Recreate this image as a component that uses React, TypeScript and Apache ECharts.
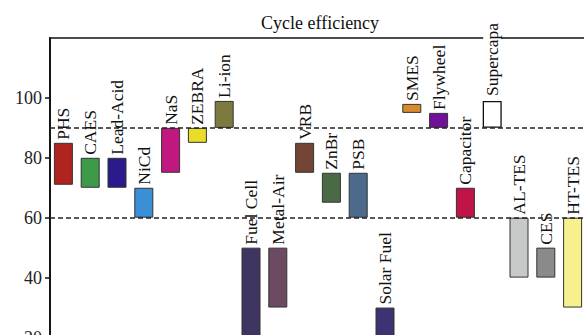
import React, { useEffect, useRef } from "react";
import * as echarts from "echarts";

const categories = [
  "PHS", "CAES", "Lead-Acid", "NiCd", "NaS", "ZEBRA", "Li-ion", "Fuel Cell", "Metal-Air",
  "VRB", "ZnBr", "PSB", "Solar Fuel", "SMES", "Flywheel", "Capacitor", "Supercapa",
  "AL-TES", "CES", "HT-TES",
];
const lowValues = [71, 70, 70, 60, 75, 85, 90, 20, 30, 75, 65, 60, 20, 95, 90, 60, 90, 40, 40, 30];
const highValues = [85, 80, 80, 70, 90, 90, 99, 50, 50, 85, 75, 75, 30, 98, 95, 70, 99, 60, 50, 60];
const barColors = [
  "#b0231f", "#3d9a48", "#2a1a8c", "#3b8fd4", "#c0187e", "#ecdc2a", "#7d7a40", "#3f3560",
  "#6c4a62", "#744535", "#4a6a45", "#4b6a8c", "#3f3272", "#d98a2a", "#72109a", "#c01448",
  "#ffffff", "#c7c8c8", "#8a8a8a", "#f7f08e",
];
const yTicks = [0, 20, 40, 60, 80, 100];
const thresholds = [90, 60];
const titleText = "Cycle efficiency";

const FONT = "Liberation Serif";

export default function App() {
  const ref = useRef<HTMLDivElement>(null);
  useEffect(() => {
    if (!ref.current) return;
    const chart = echarts.init(ref.current, undefined, { renderer: "svg" });
    const rangeData = categories.map((c, i) => {
      const item: any = {
        value: highValues[i] - lowValues[i],
        itemStyle: {
          color: barColors[i],
          borderColor: c === "Supercapa" ? "#111" : "#333",
          borderWidth: c === "Supercapa" ? 1.3 : 1,
        },
      };
      if (c === "Supercapa") {
        item.label = { backgroundColor: "#ffffff", padding: [0, 2, 0, 2] };
      }
      return item;
    });
    chart.setOption({
      animation: false,
      title: {
        text: titleText,
        left: 256,
        top: 9,
        textStyle: { fontFamily: FONT, fontSize: 18, fontWeight: "normal", color: "#111" },
      },
      grid: {
        left: 50,
        top: 38,
        width: 536,
        height: 359.4,
        containLabel: false,
        outerBoundsMode: "none",
        show: true,
        borderColor: "#111",
        borderWidth: 1.6,
        backgroundColor: "transparent",
      },
      xAxis: {
        type: "category",
        data: categories,
        axisLine: { show: false },
        axisTick: { show: false },
        axisLabel: { show: false },
      },
      yAxis: {
        type: "value",
        min: 0,
        max: 120,
        interval: 20,
        splitLine: { show: false },
        axisLine: { show: true, lineStyle: { color: "#111", width: 1.8 } },
        axisTick: {
          show: true,
          length: 5,
          customValues: yTicks,
          lineStyle: { color: "#111", width: 1.5 },
        },
        axisLabel: {
          customValues: yTicks,
          margin: 8,
          fontFamily: FONT,
          fontSize: 18,
          color: "#222",
        },
      },
      series: [
        {
          type: "bar",
          stack: "r",
          data: lowValues,
          barWidth: 19,
          itemStyle: { color: "transparent" },
          silent: true,
        },
        {
          type: "bar",
          stack: "r",
          data: rangeData,
          barWidth: 19,
          label: {
            show: true,
            position: "top",
            rotate: 90,
            align: "left",
            verticalAlign: "middle",
            distance: 3,
            fontFamily: FONT,
            fontSize: 17.5,
            color: "#111",
            formatter: (p: any) => categories[p.dataIndex],
          },
          markLine: {
            silent: true,
            symbol: "none",
            label: { show: false },
            lineStyle: { color: "#222", type: [5, 3], width: 1.5 },
            data: thresholds.map((t) => ({ yAxis: t })),
          },
        },
      ],
    });
    return () => chart.dispose();
  }, []);
  return (
    <div
      ref={ref}
      style={{ position: "fixed", left: 0, top: 0, width: 584, height: 335, background: "#fff" }}
    />
  );
}
